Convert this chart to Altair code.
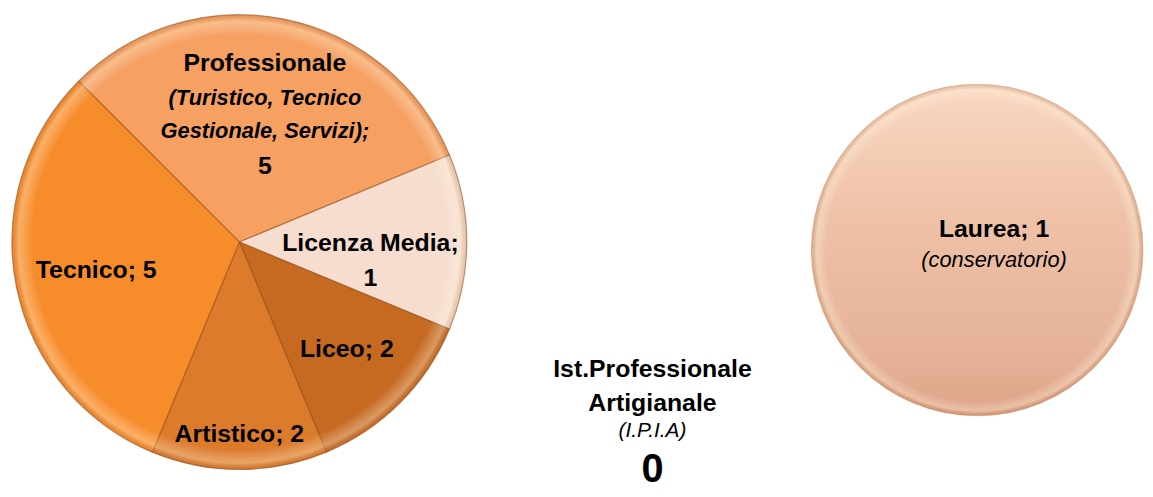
import math
import altair as alt
import pandas as pd

# ---- data ----
categories = ["Professionale", "Licenza Media", "Liceo", "Artistico", "Tecnico"]
slice_weights = [5, 2, 2, 2, 5]      # angular size of each slice as drawn
label_values = [5, 1, 2, 2, 5]       # numbers printed in the labels
slice_colors = ["#F6A062", "#F6DDCF", "#C66A22", "#DC7B2C", "#F78C2B"]

laurea_category = ["Laurea"]
laurea_values = [1]
laurea_note = ["(conservatorio)"]

ipia_category = ["Ist.Professionale\nArtigianale"]
ipia_values = [0]
ipia_note = ["(I.P.I.A)"]

FONT = "Liberation Sans"
BOLD = 25

pie_df = pd.DataFrame({
    "category": categories,
    "weight": slice_weights,
    "value": label_values,
    "idx": list(range(len(categories))),
})
laurea_df = pd.DataFrame({"category": laurea_category, "value": laurea_values, "note": laurea_note})
ipia_df = pd.DataFrame({"category": ipia_category, "value": ipia_values, "note": ipia_note})

CX, CY, R = 233, 234, 229
theta_scale = alt.Scale(domain=[0, sum(slice_weights)],
                        range=[-math.pi / 4, 7 * math.pi / 4])

base = alt.Chart(pie_df)

pie = base.mark_arc(outerRadius=R, stroke="#8A4512", strokeWidth=1.2, strokeOpacity=0.5).encode(
    theta=alt.Theta("weight:Q", stack=True, scale=theta_scale),
    order=alt.Order("idx:Q"),
    color=alt.Color("category:N", scale=alt.Scale(domain=categories, range=slice_colors), legend=None),
    x=alt.value(CX),
    y=alt.value(CY),
)

rim_gradient = alt.RadialGradient(
    gradient="radial",
    stops=[
        alt.GradientStop(color="rgba(255,255,255,0)", offset=0),
        alt.GradientStop(color="rgba(255,255,255,0)", offset=0.91),
        alt.GradientStop(color="rgba(255,245,215,0.35)", offset=0.97),
        alt.GradientStop(color="rgba(150,70,20,0.18)", offset=1),
    ],
    x1=0.5, y1=0.5, r1=0, x2=0.5, y2=0.5, r2=0.5,
)
rim = base.transform_aggregate(total="sum(weight)").mark_arc(
    outerRadius=R, color=rim_gradient
).encode(
    theta=alt.Theta("total:Q", stack=True, scale=theta_scale),
    x=alt.value(CX),
    y=alt.value(CY),
)

lab = base.transform_window(
    cum="sum(weight)", sort=[alt.SortField("idx")], frame=[None, 0]
).transform_calculate(mid="datum.cum - datum.weight / 2")


def slice_text(cat, expr, radius, dy, size=BOLD, style="normal", weight="bold"):
    return lab.transform_filter(alt.datum.category == cat).transform_calculate(
        txt=expr
    ).mark_text(
        radius=radius, dy=dy, font=FONT, fontSize=size, fontWeight=weight,
        fontStyle=style, color="#000000", align="center", baseline="middle",
    ).encode(
        theta=alt.Theta("mid:Q", scale=theta_scale),
        x=alt.value(CX),
        y=alt.value(CY),
        text="txt:N",
    )


labels = [
    slice_text("Professionale", "datum.category", 131.5, -51),
    slice_text("Professionale", "'(Turistico, Tecnico'", 131.5, -16, size=22, style="italic"),
    slice_text("Professionale", "'Gestionale, Servizi);'", 131.5, 17, size=22, style="italic"),
    slice_text("Professionale", "'' + datum.value", 131.5, 52),
    slice_text("Licenza Media", "datum.category + ';'", 132, 1),
    slice_text("Licenza Media", "'' + datum.value", 132, 36),
    slice_text("Liceo", "datum.category + '; ' + datum.value", 153, 0),
    slice_text("Artistico", "datum.category + '; ' + datum.value", 193, 0),
    slice_text("Tecnico", "datum.category + '; ' + datum.value", 147, 0),
]

# ---- Laurea circle ----
LX, LY, LR = 976, 242, 167
laurea_gradient = alt.LinearGradient(
    gradient="linear",
    stops=[
        alt.GradientStop(color="#F9D8C4", offset=0),
        alt.GradientStop(color="#F0C4AA", offset=0.35),
        alt.GradientStop(color="#E4B095", offset=0.85),
        alt.GradientStop(color="#DCA286", offset=1),
    ],
    x1=0, x2=0, y1=0, y2=1,
)
lscale = alt.Scale(domain=[0, sum(laurea_values)], range=[0, 2 * math.pi])
lbase = alt.Chart(laurea_df)
laurea = lbase.mark_arc(outerRadius=LR, color=laurea_gradient, stroke="#CF9A7E",
                        strokeWidth=1, strokeOpacity=0.5).encode(
    theta=alt.Theta("value:Q", stack=True, scale=lscale),
    x=alt.value(LX),
    y=alt.value(LY),
)
laurea_rim = lbase.mark_arc(outerRadius=LR, color=rim_gradient).encode(
    theta=alt.Theta("value:Q", stack=True, scale=lscale),
    x=alt.value(LX),
    y=alt.value(LY),
)
laurea_t1 = lbase.transform_calculate(txt="datum.category + '; ' + datum.value").mark_text(
    font=FONT, fontSize=BOLD, fontWeight="bold", color="#000000", align="center",
    baseline="middle", dy=-21,
).encode(x=alt.value(LX + 17), y=alt.value(LY), text="txt:N")
laurea_t2 = lbase.mark_text(
    font=FONT, fontSize=22, fontStyle="italic", color="#000000", align="center",
    baseline="middle", dy=10,
).encode(x=alt.value(LX + 17), y=alt.value(LY), text="note:N")

# ---- I.P.I.A. annotation ----
IX, IY = 649, 400
ibase = alt.Chart(ipia_df)
ipia_t1 = ibase.mark_text(
    font=FONT, fontSize=BOLD, fontWeight="bold", color="#000000", align="center",
    baseline="middle", lineBreak="\n", lineHeight=34, dy=-38,
).encode(x=alt.value(IX), y=alt.value(IY), text="category:N")
ipia_t2 = ibase.mark_text(
    font=FONT, fontSize=21, fontStyle="italic", color="#000000", align="center",
    baseline="middle", dy=24,
).encode(x=alt.value(IX), y=alt.value(IY), text="note:N")
ipia_t3 = ibase.transform_calculate(txt="'' + datum.value").mark_text(
    font=FONT, fontSize=40, fontWeight="bold", color="#000000", align="center",
    baseline="middle", dy=64,
).encode(x=alt.value(IX), y=alt.value(IY), text="txt:N")

chart = alt.layer(
    pie, rim, *labels, laurea, laurea_rim, laurea_t1, laurea_t2, ipia_t1, ipia_t2, ipia_t3
).resolve_scale(
    theta="independent", color="independent"
).properties(
    width=1145, height=489, padding=0, autosize=alt.AutoSizeParams(type="none"),
    background="#FFFFFF",
).configure_view(stroke="transparent")

chart.save("out.html", embed_options={"renderer": "svg", "actions": False})
